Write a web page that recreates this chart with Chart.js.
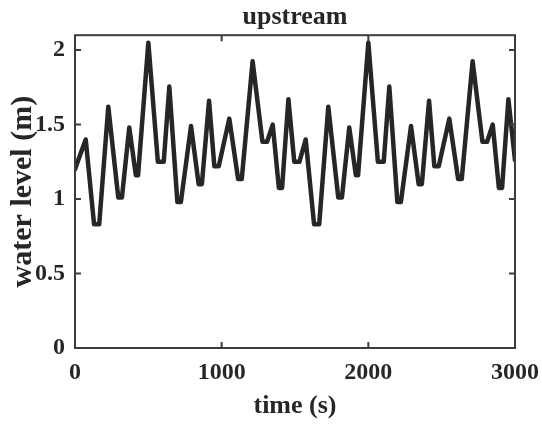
<!DOCTYPE html>
<html>
<head>
<meta charset="utf-8">
<script src="https://cdn.jsdelivr.net/npm/chart.js@4"></script>
<style>
  body { margin: 0; background: #fff; }
  #wrap { width: 542px; height: 427px; }
</style>
</head>
<body>
<div id="wrap"><canvas id="levelChart"></canvas></div>
<script>
// time (s) and water level (m)
const timeS = [
  0, 73, 130, 165, 227, 295, 320, 370, 415, 430, 500, 565, 605, 643, 698, 722,
  791, 843, 865, 914, 950, 980, 1052, 1112, 1137, 1211, 1278, 1310, 1348, 1390, 1412, 1455, 1495, 1530,
  1573, 1630, 1665, 1727, 1795, 1820, 1870, 1915, 1930, 2000, 2065, 2105, 2143, 2198, 2222,
  2291, 2343, 2365, 2414, 2450, 2480, 2552, 2612, 2637, 2711, 2778, 2810, 2848, 2890, 2912, 2955, 3000
];
const levelM = [
  1.20, 1.40, 0.83, 0.83, 1.62, 1.01, 1.01, 1.48, 1.16, 1.16, 2.05, 1.25, 1.25, 1.755, 0.98, 0.98,
  1.49, 1.10, 1.10, 1.66, 1.22, 1.22, 1.54, 1.135, 1.135, 1.925, 1.385, 1.385, 1.50, 1.075, 1.075, 1.67, 1.25, 1.25,
  1.40, 0.83, 0.83, 1.62, 1.01, 1.01, 1.48, 1.16, 1.16, 2.05, 1.25, 1.25, 1.755, 0.98, 0.98,
  1.49, 1.10, 1.10, 1.66, 1.22, 1.22, 1.54, 1.135, 1.135, 1.925, 1.385, 1.385, 1.50, 1.075, 1.075, 1.67, 1.26
];
const xTicks = [0, 1000, 2000, 3000];
const yTicks = [0, 0.5, 1, 1.5, 2];

const font = 'Liberation Serif';
const ink = '#262626';

// matlab style box with inward ticks on all four sides
const boxPlugin = {
  id: 'boxPlugin',
  afterDatasetsDraw(chart) {
    const { ctx, chartArea: a, scales } = chart;
    const len = 6;
    ctx.save();
    ctx.strokeStyle = '#3c3c3c';
    ctx.lineWidth = 2;
    ctx.strokeRect(a.left, a.top, a.right - a.left, a.bottom - a.top);
    ctx.beginPath();
    xTicks.forEach(v => {
      const px = scales.x.getPixelForValue(v);
      ctx.moveTo(px, a.bottom); ctx.lineTo(px, a.bottom - len);
      ctx.moveTo(px, a.top); ctx.lineTo(px, a.top + len);
    });
    yTicks.forEach(v => {
      const py = scales.y.getPixelForValue(v);
      ctx.moveTo(a.left, py); ctx.lineTo(a.left + len, py);
      ctx.moveTo(a.right, py); ctx.lineTo(a.right - len, py);
    });
    ctx.stroke();
    ctx.restore();
  }
};

new Chart(document.getElementById('levelChart'), {
  type: 'line',
  data: {
    datasets: [{
      data: timeS.map((t, i) => ({ x: t, y: levelM[i] })),
      borderColor: ink,
      borderWidth: 4.5,
      borderJoinStyle: 'round',
      borderCapStyle: 'round',
      pointRadius: 0,
      tension: 0,
      fill: false
    }]
  },
  options: {
    responsive: true,
    maintainAspectRatio: false,
    animation: false,
    layout: { padding: { left: 0, right: 27, top: 0, bottom: 0 } },
    plugins: {
      legend: { display: false },
      tooltip: { enabled: false },
      title: {
        display: true,
        fullSize: false,
        text: 'upstream',
        color: ink,
        font: { family: font, size: 26, weight: 'bold' },
        padding: { top: 2, bottom: 2 }
      }
    },
    scales: {
      x: {
        type: 'linear',
        min: 0, max: 3000,
        afterBuildTicks: s => { s.ticks = xTicks.map(v => ({ value: v })); },
        afterFit: s => { s.height = 79; s.paddingLeft = 0; s.paddingRight = 0; },
        grid: { display: false, drawTicks: false },
        border: { display: false },
        ticks: {
          color: ink, padding: 10, maxRotation: 0,
          font: { family: font, size: 24, weight: 'bold' },
          callback: v => String(v)
        },
        title: {
          display: true, text: 'time (s)', color: ink,
          font: { family: font, size: 26, weight: 'bold' },
          padding: { top: 0, bottom: 5 }
        }
      },
      y: {
        min: 0, max: 2.1,
        afterBuildTicks: s => { s.ticks = yTicks.map(v => ({ value: v })); },
        afterFit: s => { s.width = 75; s.paddingTop = 0; s.paddingBottom = 0; },
        grid: { display: false, drawTicks: false },
        border: { display: false },
        ticks: {
          color: ink, padding: 10,
          font: { family: font, size: 24, weight: 'bold' },
          callback: v => String(v)
        },
        title: {
          display: true, text: 'water level (m)', color: ink,
          font: { family: font, size: 30, weight: 'bold' },
          padding: { top: 5, bottom: 0 }
        }
      }
    }
  },
  plugins: [boxPlugin]
});
</script>
</body>
</html>
